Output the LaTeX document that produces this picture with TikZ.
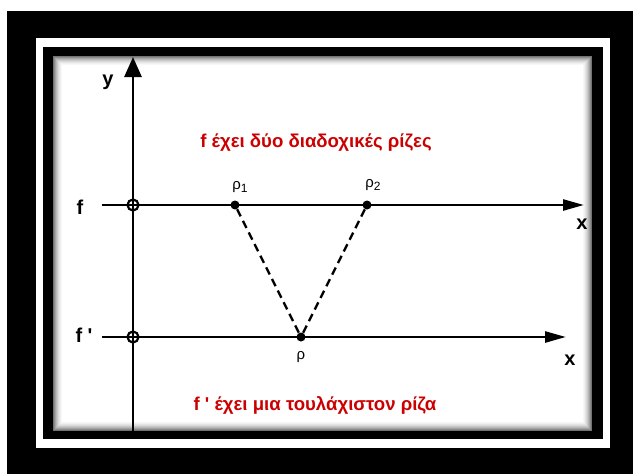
\documentclass[tikz,border=0pt]{standalone}
\usepackage{fontspec}
\setmainfont{Liberation Sans}
\usetikzlibrary{arrows.meta}
\definecolor{rootred}{HTML}{CC0000}
\newcommand{\rsub}[1]{\raisebox{-3.5pt}{\fontsize{12}{14}\selectfont #1}}

\begin{document}
\begin{tikzpicture}[x=1pt,y=-1pt,
  axisline/.style={line width=2.6pt,-{Triangle[length=21pt,width=11pt]}},
  crossmark/.style={circle,draw,line width=2.2pt,minimum size=11pt,inner sep=0pt},
  rootdot/.style={circle,fill,minimum size=9pt,inner sep=0pt},
  axislbl/.style={font=\bfseries\fontsize{20}{24}\selectfont},
  rootlbl/.style={font=\fontsize{15}{18}\selectfont},
  redtxt/.style={font=\bfseries\fontsize{18.6}{22}\selectfont,rootred}]
\useasboundingbox (0,0) rectangle (633,474);
% frame
\fill (7,11) rectangle (633,474);
\fill[white] (36,38) rectangle (610,448);
\fill (43,47) rectangle (603,439);
\fill[white] (53,56) rectangle (592,431);
\foreach \i/\g in {0.5/55,1.5/45,2.5/36,3.5/28,4.5/21,5.5/15,6.5/10,7.5/6,8.5/3}
  \draw[black!\g,line width=1pt] (53+\i,56+\i) rectangle (592-\i,431-\i);

% axes
\coordinate (ybot) at (133,431);
\coordinate (ytop) at (133,57);
\coordinate (fstart) at (102,205);
\coordinate (fend) at (584,205);
\coordinate (dstart) at (102,337);
\coordinate (dend) at (566,337);
\draw[line width=2.8pt,-{Triangle[length=20pt,width=17pt]}] (ybot) -- (ytop);
\draw[axisline] (fstart) -- (fend);
\draw[axisline] (dstart) -- (dend);
\node[crossmark] (c1) at (133,205) {};
\node[crossmark] (c2) at (133,337) {};

\node[axislbl] (ylbl) at (108,82) {y};
\node[axislbl] (flbl) at (80,207) {f};
\node[axislbl] (dlbl) at (84,335) {f \textquotesingle};
\node[axislbl] (x1) at (582,224) {x};
\node[axislbl] (x2) at (570,360) {x};

% roots
\node[rootdot] (r1) at (235,205) {};
\node[rootdot] (r2) at (367,205) {};
\node[rootdot] (r) at (301,337) {};
\draw[line width=2.4pt,dash pattern=on 8pt off 5pt] (r1) -- (r) -- (r2);
\node[rootlbl] (r1lbl) at (240,187) {ρ\rsub{1}};
\node[rootlbl] (r2lbl) at (373,185) {ρ\rsub{2}};
\node[rootlbl] (rlbl) at (301,357) {ρ};

\node[redtxt] (top) at (316,143) {f έχει δύο διαδοχικές ρίζες};
\node[redtxt] (bot) at (315,405) {f \textquotesingle\ έχει μια τουλάχιστον ρίζα};
\end{tikzpicture}
\end{document}
